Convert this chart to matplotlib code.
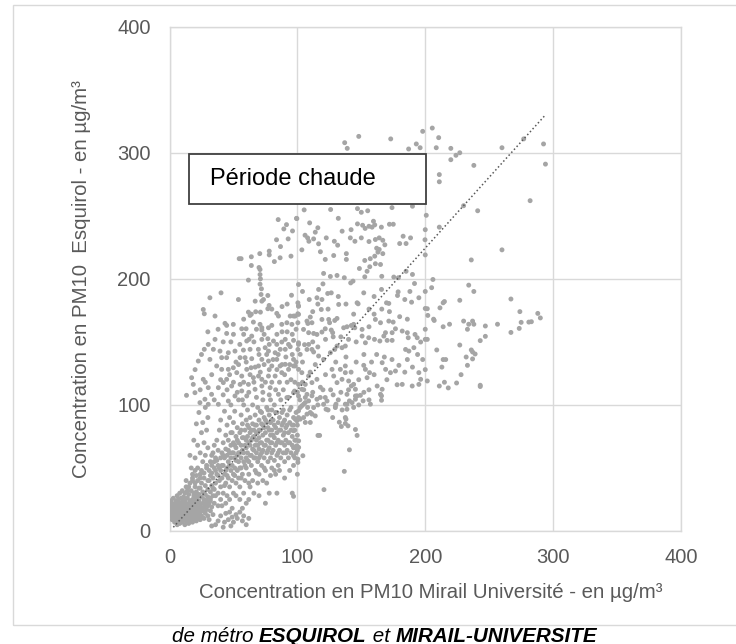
import numpy as np
import matplotlib
matplotlib.use("Agg")
import matplotlib.pyplot as plt
from matplotlib.patches import Rectangle
from matplotlib.offsetbox import TextArea, HPacker, AnchoredOffsetbox

# ---------------- data (µg/m3) : (Mirail Université, Esquirol) ----------------
origin_cluster = [
    (1,12),(1,16),(1,20),(1,24),(2,9),(2,14),(2,18),(2,22),(3,11),(3,15),(3,19),(3,26),(4,7),(4,13),(4,17),(4,21),
    (5,9),(5,12),(5,16),(5,20),(5,24),(6,5),(6,11),(6,14),(6,18),(6,22),(6,28),(7,8),(7,12),(7,16),(7,20),(7,25),
    (8,6),(8,10),(8,14),(8,18),(8,22),(8,30),(9,9),(9,13),(9,17),(9,21),(9,26),(10,7),(10,11),(10,15),(10,19),(10,23),
    (10,32),(11,9),(11,13),(11,17),(11,21),(11,27),(12,5),(12,11),(12,15),(12,19),(12,24),(12,30),(13,8),(13,13),
    (13,17),(13,22),(13,35),(14,10),(14,15),(14,19),(14,26),(15,6),(15,12),(15,17),(15,21),(15,29),(16,9),(16,14),
    (16,19),(16,24),(16,38),(17,11),(17,16),(17,22),(17,32),(18,7),(18,13),(18,18),(18,25),(18,42),(19,10),(19,15),
    (19,20),(19,28),(20,12),(20,17),(20,23),(20,35),(20,48),(21,8),(21,14),(21,19),(21,26),(21,31),(22,11),(22,16),
    (22,22),(22,40),(23,13),(23,18),(23,24),(23,29),(24,9),(24,15),(24,21),(24,34),(24,45),(25,12),(25,18),(25,27),
    (25,38),(26,16),(26,22),(26,31),(27,10),(27,19),(27,25),(27,42),(28,14),(28,21),(28,29),(28,36),(29,17),(29,24),
    (29,50),(30,12),(30,20),(30,27),(30,33),(31,9),(31,22),(31,40),(32,16),(32,26),(32,31),(33,4),(33,19),(33,36),
    (33,46),(34,13),(34,28),(35,22),(35,33),(35,55),
    (38,8),(40,12),(43,7),(44,14),(46,9),(47,15),(49,11),(50,7),(52,13),(53,10),(55,15),(57,8),(58,12),(60,5),
    (62,10),(48,4),(42,3),(36,5),
]

band_left = [
    (16,60),(18,45),(19,72),(20,38),(20,58),(21,85),(22,50),(22,68),(23,94),(24,42),(24,62),(25,78),(26,55),(26,86),
    (27,46),(27,70),(28,60),(28,98),(29,52),(29,80),(30,66),(30,90),(17,50),(18,40),(21,44),(23,34),(25,48),(13,40),
    (15,35),(14,32),(19,30),(22,28),
]

band_main = [
    (30,40),(31,48),(32,55),(33,60),(34,42),(35,50),(35,68),(36,38),(36,58),(37,45),(37,72),(38,30),(38,52),(38,64),
    (39,40),(39,80),(40,35),(40,48),(40,58),(40,88),(36,28),(34,34),(32,24),(38,20),(40,25),
    (41,42),(41,62),(42,30),(42,52),(42,70),(43,45),(43,58),(43,95),(44,38),(44,65),(44,76),(45,28),(45,50),(45,60),
    (45,84),(46,42),(46,55),(46,72),(47,35),(47,62),(47,90),(48,48),(48,58),(48,68),(48,100),(49,40),(49,52),(49,78),
    (50,30),(50,45),(50,62),(50,70),(50,86),(41,20),(44,22),(47,25),(49,18),
    (51,50),(51,58),(51,95),(52,38),(52,66),(52,75),(53,48),(53,60),(53,82),(54,42),(54,55),(54,70),(54,104),(55,35),
    (55,62),(55,78),(56,50),(56,58),(56,68),(56,92),(57,45),(57,74),(57,85),(58,55),(58,62),(58,100),(59,40),(59,68),
    (59,80),(60,50),(60,58),(60,72),(60,88),(52,28),(55,25),(58,30),(60,22),(57,18),
    (61,62),(61,75),(61,96),(62,45),(62,55),(62,82),(63,68),(63,78),(63,90),(64,52),(64,60),(64,72),(65,40),(65,65),
    (65,85),(65,100),(66,58),(66,75),(66,80),(67,48),(67,68),(67,92),(68,62),(68,72),(68,84),(69,55),(69,78),(69,98),
    (70,45),(70,65),(70,74),(70,88),(63,35),(66,30),(69,38),(70,28),(62,25),
    (71,60),(71,80),(71,95),(72,52),(72,70),(72,85),(73,64),(73,76),(73,104),(74,58),(74,82),(74,90),(75,48),(75,68),
    (75,78),(76,62),(76,86),(76,98),(77,55),(77,72),(77,82),(78,66),(78,92),(78,108),(79,58),(79,76),(79,86),(80,50),
    (80,70),(80,80),(80,96),(73,40),(76,38),(79,44),(78,30),(75,22),
    (81,64),(81,88),(82,56),(82,74),(82,100),(83,68),(83,82),(84,60),(84,78),(84,94),(85,52),(85,72),(85,86),(86,64),
    (86,90),(87,58),(87,80),(87,104),(88,70),(88,84),(89,62),(89,76),(89,96),(90,55),(90,68),(90,88),(83,45),(86,48),
    (90,42),(84,30),
    (91,72),(91,82),(92,64),(92,92),(93,58),(93,78),(94,70),(94,86),(95,62),(95,98),(96,75),(96,84),(97,66),(97,90),
    (98,58),(98,80),(99,72),(99,94),(100,64),(100,84),(94,48),(97,52),(100,45),(96,30),
]

band_fill = [
    (32,44),(33,52),(34,62),(36,48),(37,56),(39,50),(41,52),(42,60),(43,36),(44,48),(46,64),(47,52),(48,78),(49,62),
    (51,44),(51,68),(52,56),(53,72),(54,62),(55,50),(56,80),(57,64),(58,74),(59,52),(60,66),(61,56),(61,84),(62,70),
    (63,60),(64,80),(65,74),(66,64),(67,58),(67,84),(68,78),(69,68),(70,58),(70,80),(71,70),(72,62),(72,94),(73,84),
    (74,68),(75,88),(76,72),(77,64),(77,96),(78,80),(79,70),(80,62),(80,88),(81,76),(82,84),(83,94),(84,70),(85,62),
    (86,80),(87,70),(88,94),(89,86),(90,78),(91,62),(92,84),(93,70),(94,96),(95,80),(96,68),(97,84),(98,72),(99,62),
    (100,76),(38,44),(45,44),(56,42),(62,38),(68,46),(74,50),(82,48),
]

band_lower_right = [
    (97,79.5),(101,71.5),(99.6,67.6),(98.3,66.3),(101,66.3),(104.3,59.7),(100.4,57),(100.4,54.4),(97,59.7),(97,27.5),
    (120.8,32.8),(136.7,47.3),(140.7,64.4),(116.1,75.8),(117.4,75.8),(146.7,75.8),(145.4,80.5),(139.6,83.4),
    (137.5,85.3),(134.4,82.9),(132.8,86.3),(137.5,90),(138,88.7),(127.6,90),(122.4,96.6),(129.7,97.9),(130.2,100.6),
    (137.5,100.6),(138.8,96.6),(140.7,103.2),(145.4,104.5),(146.7,107.2),(151.4,103.2),(157.1,100.6),(165.8,103.7),
    (165.8,107.2),(100.9,95.3),(102.2,97.9),(103.5,99.3),(104.9,100.6),(106.2,101.9),(108.8,103.2),(110.1,94),
    (111.4,92.7),(114,91.3),(107.5,92.7),(104.9,90),(102.2,88.7),(99.6,87.4),(100.9,90),(98.3,88.7),(106.2,86.1),
    (110.1,86.1),(112.7,97.9),(115.3,104.5),(117.9,105.9),(121.8,105.9),(106.2,105.9),(111.4,107.2),
    (102,104),(105,112),(108,98),(112,110),(116,100),(120,112),(124,96),(128,108),(132,104),(135,96),(140,112),
    (144,98),(148,100),(152,110),(156,104),
]

upper_left = [
    (70.8,207.4),(70.8,203.4),(71.1,200),(70.8,195.8),(71.9,192.1),(61.7,199),(71.6,187.6),(76.9,186.8),(67,182.3),
    (72.2,182.3),(73.5,183.6),(77.9,178.9),(76.9,176.3),(71.1,173.6),(67.4,173.9),(61.7,173.6),(63,171),(31.6,185),
    (40.3,188.9),(53.9,183.6),(26.4,175.7),(27.2,172.3),(35.6,170.5),(43.4,164.7),(44.7,163.1),(49.9,163.9),
    (44.7,156.7),(56.5,160.4),(59.9,160.4),(65.6,165.7),(70.8,163.9),(72.2,161.2),(72.2,159.4),(77.4,161.2),
    (80,163.1),(83.9,172.6),(85.2,170.5),(87.8,163.9),(91.8,165.2),(95.7,163.9),(94.4,170.5),(97,170.5),
    (100.9,178.4),(100.9,171.8),(64.3,154.6),(60.4,150.7),(62.2,152),(72.2,152),(76.9,152.5),(81.3,150.7),
    (83.9,148),(87.8,149.9),(90.5,152),(93.1,148),(97,151.2),(100.9,149.3),(63,144.1),(69.5,144.1),(74.8,145.4),
    (77.4,142.7),(82.6,141.4),(86.6,144.1),(90.5,144.1),(94.4,146.2),
    (57.8,143.5),(55.2,137.5),(59.1,137.5),(64.3,136.7),(51.2,142.7),(46,141.4),(40.8,137.5),(44.7,137.5),
    (39.5,142.7),(35.6,152),(30.3,148),(27.2,144.1),(34.3,144.1),(22.5,134.8),(31.6,136.1),(36.9,130.9),
    (40.8,128.2),(46,128.2),(49.9,129.5),(52.6,125.6),(56.5,122.9),(60.4,128.2),(63.8,129.5),(69.6,130.9),
    (72.2,136.1),(77.4,134.8),(80,130.9),(83.9,136.1),(86.5,130.9),(90.5,132.2),(97,130.9),(93.1,128.2),
    (87.8,125.6),(82.6,122.9),(77.4,122.9),(72.2,120.3),(69.6,122.9),(65.6,121.6),(61.7,116.3),
    (17.3,121.6),(18.6,116.3),(13.3,107.6),(19.9,109.7),(26.4,120.3),(30.3,113.7),(32.9,108.4),(27.7,104.5),
    (38.2,113.7),(42.1,117.7),(44.7,120.3),(48.6,115),(55.2,116.3),(56.5,111.1),(51.2,107.1),(60.4,107.1),
    (66.9,112.4),(72.2,115),(78.7,113.7),(85.2,108.4),(91.8,105.8),(97,109.7),(100.9,116.3),(46,103.1),
    (38.2,100.5),(30.3,100.5),(23.8,101.8),
    (54.5,216),(56,216),(64,217.5),(70.6,220),(64,210.6),(70,209),(78,222),(78,219),(82,213.7),(86.5,216.7),
    (85,247),(89.4,239.6),(91.5,243),(83.7,231),(86.8,225.6),(92.8,231.7),(96.2,238),(99.3,248),(95,218),(95.4,187),
]

upper_left_fill = [
    (24,112),(28,118),(33,124),(35,104),(40,120),(42,108),(45,112),(47,124),(50,118),(53,110),(54,132),(57,104),
    (58,118),(60,134),(62,110),(63,124),(66,118),(67,130),(68,106),(70,140),(71,126),(73,110),(74,132),(75,118),
    (76,140),(78,128),(79,104),(80,118),(81,136),(83,112),(84,128),(85,140),(86,118),(88,132),(89,112),(90,124),
    (91,138),(92,118),(93,106),(94,132),(95,120),(96,140),(98,118),(99,134),(100,110),(48,150),(52,134),(55,148),
    (58,156),(66,150),(68,160),(74,156),(78,148),(84,156),(88,158),(92,158),(96,156),(99,160),(38,160),(42,150),
    (50,156),(64,172),(80,176),(88,178),(92,180),(58,168),(30,158),(20,128),(25,140),
]

middle = [
    (141.7,196.8),(143.5,198.2),(152.7,201.6),(191.6,196.3),(100.9,195.5),(116.6,191.6),(123.7,188.4),(126.5,188.9),
    (109.3,183.6),(115.3,185),(119.2,183.6),(132.3,179.7),(146.7,181),(147.5,180.2),(151.9,188.9),(165.8,191.6),
    (178.8,189.7),(178.3,186.8),(169.7,181),(171.5,180.5),(184,183.6),(189.3,181.5),(195,185),(201.6,176.3),
    (100.4,181),(100.9,178.4),(100.4,172.3),(98.3,170.5),(100.4,165.2),(107.5,166.5),(110.1,169.7),(111.4,165.2),
    (108.2,164.6),(118.7,175.7),(119.2,167.8),(124.5,167.8),(125.2,165.2),(129.2,167),(131,168.6),(136.2,161.2),
    (138.8,162),(142.2,163),(144.9,161.2),(144,163.9),(150.6,159.9),(150.6,154.6),(155.8,153.3),(153.2,149.3),
    (161,167.8),(165,165.2),(171.5,166.5),(174.9,165.7),(176.7,160.4),(168.9,157.3),(167.6,154.6),(174.1,157.3),
    (174.1,151.2),(170.2,151.2),(164.5,150.7),(160.3,152),(182,158.6),(186,157.3),(186.7,153.3),(193.7,153.3),
    (196.4,149.9),(192,155.9),(184.6,144),(187.2,142.7),(191.1,145.4),(201.6,152),(104.8,159.9),(108.8,157.3),
    (112.7,156.7),(115.3,155.9),(119.2,157.8),(121.8,160.4),(126.5,159.4),(127.6,157.3),(100.9,148),(105.6,147.8),
    (108.8,148),(111.4,144),(107.5,144),(112.7,142),(100.4,144),(102.2,140.1),(116.6,138.8),(120.5,136.1),
    (125.8,141.4),(129.2,144),(131,146.7),(134.9,145.4),(137.5,146.7),(97,136.1),(98.3,130.9),(100.9,128.2),
    (103.5,125.6),(108.8,123),(115.3,120.3),(111.4,117.7),(106.2,116.3),(103.5,112.4),(107.5,108.4),(100.9,107.1),
    (97.8,111),(127.1,128.2),(133.6,128.2),(128.4,122.9),(137.5,130.9),(137.5,125.6),(134.9,120.3),(131,117.7),
    (140.1,119),(144,116.3),(145.4,112.4),(142.2,115),(138.8,108.4),(145.4,107.1),(149.3,107.6),(142.8,101.8),
    (151.9,131.4),(153.2,128.2),(156.4,125.6),(154.5,121.6),(166.3,133.5),(169,128.2),(172.8,125.6),(176.7,126.9),
    (179.4,131.4),(165,108.4),(166.3,112.4),(162.4,115),(182,116.3),(189.8,115),(195,116.3),(196.4,120.3),
    (195,125.6),(201.6,119),(123.2,103.1),(120.5,100.5),(129.7,99.2),(138.8,100.5),
]

middle_fill = [
    (104,118),(110,126),(114,132),(118,114),(122,124),(126,112),(130,134),(134,110),(138,138),(142,126),(146,134),
    (148,120),(152,140),(156,112),(158,134),(160,124),(162,140),(168,138),(170,120),(174,136),(178,116),(184,126),
    (186,136),(190,130),(194,140),(198,136),(104,134),(112,150),(116,146),(122,152),(128,154),(134,154),(140,152),
    (146,150),(156,162),(160,172),(166,176),(172,174),(180,170),(186,168),(112,174),(116,180),(124,176),(132,186),
    (138,180),(144,172),(156,176),(188,190),(160,186),(120,196),(104,190),
]

above_middle = [
    (105.3,254.7),(126,255),(147,255.7),(150,252.8),(155,254),(174,256.5),(190,257.6),(99.6,247.8),(109.6,244.4),
    (132,248),(147,243.6),(151,242.5),(153,240),(156,241.7),(159.5,245.7),(160.5,242.8),(158.4,241),(165.7,241),
    (172,243.3),(175,243.3),(106,234.6),(108,232.5),(114,237),(116,240.5),(112.7,231.7),(116.6,227.8),(109,229.8),
    (122.6,232.5),(128.9,229.8),(131.5,226.7),(135,237.8),(142,239),(141.4,232.5),(145,229.8),(150,232.5),
    (156,229.6),(161,231.2),(164,232.5),(166.8,230.6),(168.4,227),(180,228),(185,228),(182.7,233.8),(188.5,232.5),
    (103.5,223),(162,224.3),(163,221.2),(164,223.3),(166.8,220),(128.4,218.5),(138.3,220),(138.3,215.4),
    (121.8,215.4),(118,221.5),(152.7,214.6),(157,216),(160.5,218),(161,212),(156.6,209.6),(165,211.4),
    (120.5,204.3),(131,202.7),(136.7,200.9),(125.8,201.9),(148.5,208.2),(154.5,206),(166,202),(175.4,201.4),
    (179,200.9),(185,206),(190,203.5),(199.8,231),
]

right_branch = [
    (200.8,250.4),(200,239),(200,219),(211,241),(230,258),(241,254),(282,262),(260,223),(236,215),(206,199.5),
    (205,193),(200,190),(234,195),(238,190),(267,184),(227,183),(215,182),(214,181),(211.5,177),(200,176.5),
    (202,171),(274,174),(288,172.6),(290,169),(281,165.7),(283,166),(275,165.5),(273.5,160.7),(267,157.5),
    (256.5,164),(247,162.6),(247,154.4),(243,151),(237,166.5),(238,164),(234,164),(230,166.5),(233,160),(219,164),
    (214,162),(206.5,168),(207,167),(200,160),(200,152),(227,147.5),(209,143.6),(236,143.6),(237,142),(239,140.4),
    (237,136.5),(232,138),(233,131.4),(214,136),(216,136),(213,130),(200,128),(228,124),(211,115),(215,118),
    (218,113.5),(224.5,117.4),(243,115.6),(243,114.6),
]

top_points = [
    (137,308),(139,303.5),(148,313),(173,311),(187,303),(193,307),(196,304),(198,317),(205.5,319.6),(210.5,312),
    (208.6,304),(220,303.5),(220,294.5),(224,298),(227,300),(238,290),(260,304),(292.5,307),(294,291),(277,311),
    (211,282.7),(211,277),
]

# linear trend (Excel-style) : y = a*x + b, drawn over the x-range of the data
trend_slope = 1.124
trend_intercept = -0.4
trend_x_range = [3, 294]

x_ticks = [0, 100, 200, 300, 400]
y_ticks = [0, 100, 200, 300, 400]

x_label = "Concentration en PM10 Mirail Université - en µg/m³"
y_label = "Concentration en PM10  Esquirol - en µg/m³"
box_text = "Période chaude"
caption_parts = [("de métro ", 'normal'), ("ESQUIROL", 'bold'), (" et ", 'normal'), ("MIRAIL-UNIVERSITE", 'bold')]

# ---------------- drawing ----------------
plt.rcParams['font.family'] = ['Liberation Sans', 'DejaVu Sans']

W, H = 736, 644
fig = plt.figure(figsize=(W / 100, H / 100), dpi=100)
ax = fig.add_axes([169.5 / W, 1 - 531 / H, (681 - 169.5) / W, (531 - 26.7) / H])

pts = np.array(origin_cluster + band_left + band_main + band_fill + band_lower_right + upper_left
               + upper_left_fill + middle + middle_fill + above_middle + right_branch + top_points,
               dtype=float)
ax.scatter(pts[:, 0], pts[:, 1], s=12.5, color='#A5A5A5', edgecolors='none', zorder=3)

tx = np.array(trend_x_range, dtype=float)
ax.plot(tx, trend_slope * tx + trend_intercept, linestyle=(0, (1, 1.6)), color='#595959',
        linewidth=1.1, zorder=4)

ax.set_xlim(0, 400)
ax.set_ylim(0, 400)
ax.set_xticks(x_ticks)
ax.set_yticks(y_ticks)
ax.grid(True, color='#D9D9D9', linewidth=1.0, zorder=0)
ax.set_axisbelow(True)
for sp in ax.spines.values():
    sp.set_color('#D9D9D9')
    sp.set_linewidth(1.0)
ax.tick_params(axis='both', length=0, labelsize=14.5, labelcolor='#595959')
ax.tick_params(axis='x', pad=12)
ax.tick_params(axis='y', pad=13.5)

fig.text(430.5 / W, 1 - 598 / H, x_label, ha='center', va='baseline', fontsize=14.7, color='#595959')
fig.text(82 / W, 1 - 279 / H, y_label, ha='center', va='center', rotation=90, fontsize=14.7,
         color='#595959')

# text box "Période chaude"
px_x = (681 - 169.5) / 400.0
px_y = (531 - 26.7) / 400.0
bx0 = (189 - 169.5) / px_x
by0 = (531 - 204) / px_y
bw = (426 - 189) / px_x
bh = (204 - 154) / px_y
ax.add_patch(Rectangle((bx0, by0), bw, bh, facecolor='white', edgecolor='#404040',
                       linewidth=1.3, zorder=5))
ax.text(bx0 + (210 - 189) / px_x, by0 + bh / 2, box_text, ha='left', va='center', fontsize=17,
        color='black', zorder=6)

# chart-area border
fig.add_artist(Rectangle((12.7 / W, 1 - 625 / H), 1.0, (625 - 5) / H, transform=fig.transFigure,
                         facecolor='none', edgecolor='#D9D9D9', linewidth=1.0))

# caption below the chart
areas = [TextArea(t, textprops=dict(fontsize=14.9, style='italic', weight=w, color='black'))
         for t, w in caption_parts]
pack = HPacker(children=areas, align='baseline', pad=0, sep=0)
ab = AnchoredOffsetbox(loc='center', child=pack, frameon=False, pad=0, borderpad=0,
                       bbox_to_anchor=(384.5 / W, 1 - 636 / H), bbox_transform=fig.transFigure)
fig.add_artist(ab)

fig.savefig('out.png', dpi=100)
